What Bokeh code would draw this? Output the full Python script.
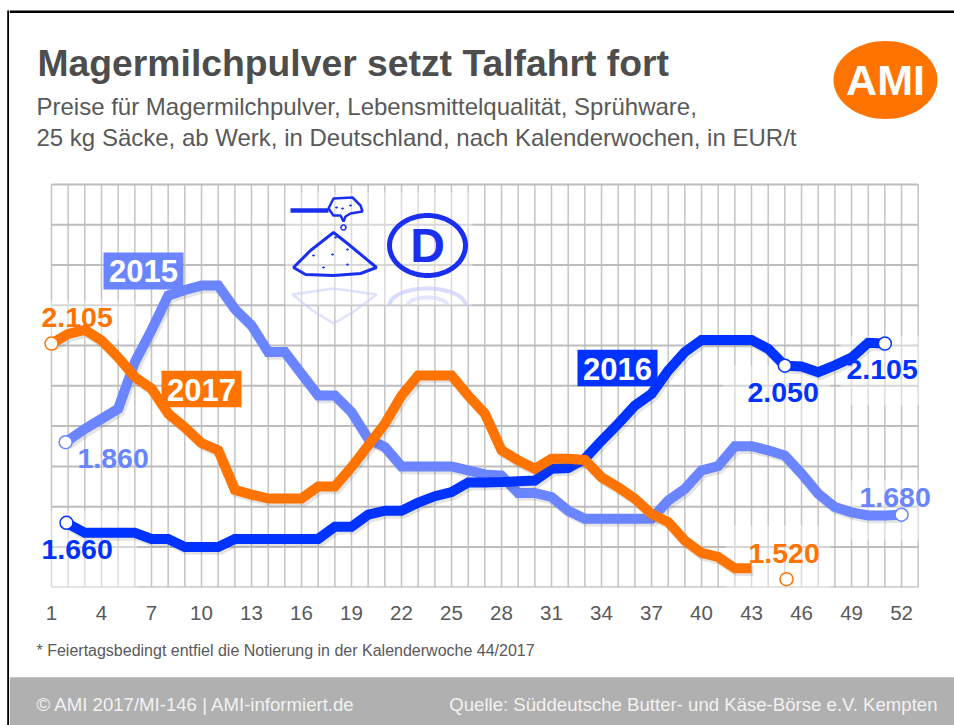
import math
from bokeh.plotting import figure
from bokeh.layouts import row, column
from bokeh.embed import file_html
from bokeh.resources import INLINE
from bokeh.models import FixedTicker, ColumnDataSource
from bokeh.core.properties import value
from bokeh.transform import dodge

weeks_2015 = [1.85, 3, 4, 5, 6, 7, 8, 9, 10, 11, 12, 13, 14, 15, 16, 17, 18, 19, 20, 21, 22, 23, 24, 25, 26, 27, 28, 29, 30, 31, 32, 33, 34, 35, 36, 37, 38, 39, 40, 41, 42, 43, 44, 45, 46, 47, 48, 49, 50, 51, 52]
values_2015 = [1860, 1893, 1918, 1943, 2059, 2138, 2224, 2238, 2249, 2249, 2191, 2150, 2084, 2084, 2030, 1976, 1976, 1935, 1869, 1848, 1800, 1800, 1800, 1800, 1790, 1780, 1777, 1734, 1734, 1724, 1690, 1670, 1670, 1670, 1670, 1670, 1715, 1744, 1790, 1801, 1850, 1850, 1840, 1827, 1782, 1732, 1699, 1686, 1678, 1678, 1680]
weeks_2016 = [1.9, 3, 4, 5, 6, 7, 8, 9, 10, 11, 12, 13, 14, 15, 16, 17, 18, 19, 20, 21, 22, 23, 24, 25, 26, 27, 28, 29, 30, 31, 32, 33, 34, 35, 36, 37, 38, 39, 40, 41, 42, 43, 44, 45, 46, 47, 48, 49, 50, 51]
values_2016 = [1660, 1635, 1635, 1635, 1635, 1620, 1620, 1600, 1600, 1600, 1620, 1620, 1620, 1620, 1620, 1620, 1650, 1650, 1680, 1690, 1690, 1710, 1726, 1736, 1760, 1760, 1761, 1763, 1765, 1794, 1796, 1819, 1864, 1906, 1951, 1980, 2038, 2084, 2114, 2114, 2114, 2114, 2092, 2050, 2048, 2034, 2051, 2070, 2107, 2105]
weeks_2017 = list(range(1, 44))
values_2017 = [2105, 2129, 2139, 2113, 2071, 2022, 1993, 1931, 1897, 1858, 1840, 1742, 1730, 1720, 1720, 1720, 1750, 1750, 1798, 1852, 1906, 1976, 2026, 2026, 2026, 1976, 1931, 1840, 1815, 1794, 1819, 1819, 1816, 1773, 1748, 1720, 1682, 1662, 1616, 1585, 1575, 1547, 1547]
marker_weeks_2015 = [1.85, 52]
marker_values_2015 = [1860, 1680]
marker_weeks_2016 = [1.9, 45, 51]
marker_values_2016 = [1660, 2050, 2105]
marker_weeks_2017 = [1, 45.1]
marker_values_2017 = [2105, 1520]
tick_weeks = [1, 4, 7, 10, 13, 16, 19, 22, 25, 28, 31, 34, 37, 40, 43, 46, 49, 52]
grid_weeks = list(range(1, 54))
grid_values = list(range(1500, 2501, 100))

C15, C16, C17 = "#6A85FF", "#0033FF", "#FF7300"
GREY = "#595959"
ICON = "#1A2FEF"
FONT = "Liberation Sans"
LEFT = 9                     # width of the strip with the black page rule
FRAME_H, AXIS_H = 587, 48
KX = (917.7 - 51) / 52       # px per week
KY = (586.7 - 184) / 1000    # px per EUR
BASE = 0.36                  # baseline correction of the svg text, in font sizes


def dx(px):
    return 1 + (px - 51) / KX


def dy(py):
    return 1500 + (586.7 - py) / KY


def bare(fig):
    fig.xgrid.visible = False
    fig.ygrid.visible = False
    fig.outline_line_color = None
    fig.min_border = 0
    return fig


# ---- main chart ----
p = bare(figure(frame_width=954 - LEFT, frame_height=FRAME_H, height=FRAME_H + AXIS_H, width=954 - LEFT,
                output_backend="svg", toolbar_location=None, y_axis_location=None,
                x_range=(dx(LEFT), dx(954)), y_range=(dy(FRAME_H), dy(0))))
p.min_border_bottom = AXIS_H
ax = p.xaxis[0]
ax.ticker = FixedTicker(ticks=tick_weeks)
ax.axis_line_color = None
ax.major_tick_line_color = None
ax.minor_tick_line_color = None
ax.major_label_standoff = 12
ax.major_label_text_font = FONT
ax.major_label_text_font_size = "20.5px"
ax.major_label_text_color = GREY


def box(fig, fx, fy, x0, y0, x1, y1, color, alpha=1.0):
    fig.quad(left=[fx(x0)], right=[fx(x1)], top=[fy(y0)], bottom=[fy(y1)], fill_color=color, fill_alpha=alpha, line_color=None)


def text(fig, fx, fy, x, y, s, size, color, bold=False, align="left"):
    fig.text([fx(x)], [fy(y - BASE * size)], text=[s], text_font=value(FONT), text_font_size=f"{size}px", text_color=color,
             text_align=align, text_baseline="alphabetic", text_font_style="bold" if bold else "normal")


def poly(pts, line=None, fill=None, width=3, alpha=1.0, closed=True):
    xs = [dx(a) for a, _ in pts]
    ys = [dy(b) for _, b in pts]
    if closed:
        p.patch(xs, ys, fill_color=fill, fill_alpha=alpha if fill else 0, line_color=line, line_width=width, line_alpha=alpha)
    else:
        p.line(xs, ys, line_color=line, line_width=width, line_alpha=alpha)


def ell(cx, cy, rx, ry, a0=0, a1=360, n=72):
    return [(cx + rx * math.cos(math.radians(a0 + (a1 - a0) * i / n)), cy + ry * math.sin(math.radians(a0 + (a1 - a0) * i / n))) for i in range(n + 1)]


# grid
p.segment(grid_weeks, [1500] * len(grid_weeks), grid_weeks, [2500] * len(grid_weeks), line_color="#C4C4C4", line_width=1.5)
p.segment([1] * len(grid_values), grid_values, [53] * len(grid_values), grid_values, line_color="#BDBDBD", line_width=2)

# whitened halos in the grid behind icons and labels
for x0, y0, x1, y1 in [(285, 192, 472, 305), (50, 510, 137, 590), (45, 300, 135, 340), (722, 365, 830, 425),
                       (840, 335, 925, 405), (850, 480, 925, 540), (725, 525, 830, 590)]:
    box(p, dx, dy, x0, y0, x1, y1, "white", 0.4)


def shadow(weeks, vals):
    src = ColumnDataSource(dict(w=weeks, v=vals))
    p.line(dodge("w", 0.12), dodge("v", -7), source=src, line_color="#555555", line_alpha=0.16, line_width=10, line_join="miter")
    return src


s15 = shadow(weeks_2015, values_2015)
p.line("w", "v", source=s15, line_color=C15, line_width=10, line_join="miter")
s16 = shadow(weeks_2016, values_2016)
p.line("w", "v", source=s16, line_color=C16, line_width=10, line_join="miter")
s17 = shadow(weeks_2017, values_2017)
p.line("w", "v", source=s17, line_color=C17, line_width=10, line_join="miter")
p.scatter(marker_weeks_2015, marker_values_2015, size=13, fill_color="white", line_color=C15, line_width=1.5)
p.scatter(marker_weeks_2016, marker_values_2016, size=13, fill_color="white", line_color=C16, line_width=1.5)
p.scatter(marker_weeks_2017, marker_values_2017, size=13, fill_color="white", line_color=C17, line_width=1.5)

# top rule
box(p, dx, dy, LEFT, 10, 954, 12.5, "black")

# headings
text(p, dx, dy, 37, 76, "Magermilchpulver setzt Talfahrt fort", 37.3, "#4D4D4D", bold=True)
text(p, dx, dy, 36, 115, "Preise für Magermilchpulver, Lebensmittelqualität, Sprühware,", 24, GREY)
text(p, dx, dy, 36, 146, "25 kg Säcke, ab Werk, in Deutschland, nach Kalenderwochen, in EUR/t", 24, GREY)

# logo
poly(ell(885, 79.5, 52, 39), fill="#FF7300")
text(p, dx, dy, 885, 95, "AMI", 43, "white", bold=True, align="center")

# icons
poly([(290, 210), (328, 210)], line=ICON, width=4.5, closed=False)
poly([(328, 208), (333, 198), (352, 197), (360, 205), (362, 211), (350, 213), (345, 216), (343, 221), (340, 215), (333, 215)], line=ICON, width=2.5)
poly(ell(343, 227, 2.5, 2.5), line=ICON, width=1.5)
poly([(333, 232), (347, 243), (376, 267), (360, 273), (333, 275), (305, 274), (293, 267), (310, 250)], line=ICON, width=3)
for cx, cy in [(336, 207), (342, 208), (350, 205), (335, 237), (313, 255), (332, 254), (347, 249), (323, 267), (347, 264)]:
    poly(ell(cx, cy, 1.5, 1, n=10), fill=ICON)
poly(ell(427, 245, 38, 30), line=ICON, width=5)
text(p, dx, dy, 427, 262, "D", 48, ICON, bold=True, align="center")
poly([(292, 294), (333, 288), (376, 294), (352, 312), (333, 323), (312, 310)], line="#C9CEFA", width=2.5, alpha=0.6)
poly(ell(427, 305, 38, 17, 180, 360, 30), line="#C9CEFA", width=4, alpha=0.7, closed=False)
poly(ell(427, 305, 20, 8, 180, 360, 30), line="#D8DBFB", width=4, alpha=0.7, closed=False)

# year flags
box(p, dx, dy, 103, 252, 183, 289, C15)
text(p, dx, dy, 143, 282, "2015", 31, "white", bold=True, align="center")
box(p, dx, dy, 161, 370.3, 241, 406.7, C17)
text(p, dx, dy, 201, 401, "2017", 31, "white", bold=True, align="center")
box(p, dx, dy, 577, 349.3, 657, 385.7, C16)
text(p, dx, dy, 617, 380, "2016", 31, "white", bold=True, align="center")

# value labels
text(p, dx, dy, 41, 327, "2.105", 28.5, C17, bold=True)
text(p, dx, dy, 77, 468, "1.860", 28.5, C15, bold=True)
text(p, dx, dy, 41, 559, "1.660", 28.5, C16, bold=True)
text(p, dx, dy, 747, 402, "2.050", 28.5, C16, bold=True)
text(p, dx, dy, 846, 379, "2.105", 28.5, C16, bold=True)
text(p, dx, dy, 859, 507, "1.680", 28.5, C15, bold=True)
text(p, dx, dy, 748, 563, "1.520", 28.5, C17, bold=True)

# ---- footnote and footer ----
TOP2 = FRAME_H + AXIS_H
q = bare(figure(width=954 - LEFT, height=725 - TOP2, output_backend="svg", toolbar_location=None,
                x_axis_location=None, y_axis_location=None, x_range=(LEFT, 954), y_range=(725, TOP2)))
ident = lambda v: v
box(q, ident, ident, LEFT, 676.7, 954, 725, "#B0B0B0")
text(q, ident, ident, 36, 656, "* Feiertagsbedingt entfiel die Notierung in der Kalenderwoche 44/2017", 16, GREY)
text(q, ident, ident, 36, 710.5, "© AMI 2017/MI-146 | AMI-informiert.de", 18.6, "#F2F2F2")
text(q, ident, ident, 937, 710.5, "Quelle: Süddeutsche Butter- und Käse-Börse e.V. Kempten", 18.6, "#F2F2F2", align="right")

# ---- black page rule at the left ----
r = bare(figure(width=LEFT, height=725, output_backend="svg", toolbar_location=None,
                x_axis_location=None, y_axis_location=None, x_range=(0, LEFT), y_range=(725, 0)))
box(r, ident, ident, 6.7, 10, 9, 725, "black")

page = row(r, column(p, q, spacing=0), spacing=0)
open("out.html", "w").write(file_html(page, INLINE))
